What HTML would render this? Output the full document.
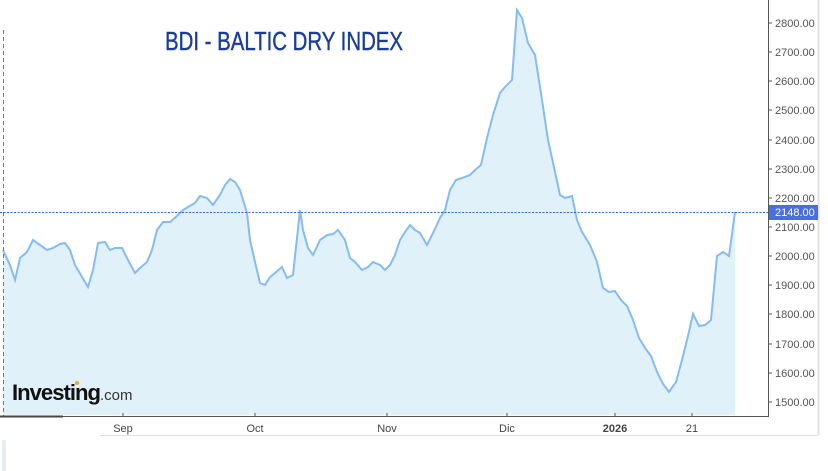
<!DOCTYPE html>
<html><head><meta charset="utf-8"><style>body{margin:0;background:#fff}svg{display:block}</style></head><body>
<svg width="828" height="471" xmlns="http://www.w3.org/2000/svg" font-family="Liberation Sans, sans-serif">
<rect width="828" height="471" fill="#fff"/>
<line x1="818.5" y1="0" x2="818.5" y2="435" stroke="#e0e0e6" stroke-width="2"/>
<line x1="100" y1="435.5" x2="818" y2="435.5" stroke="#e0e0e6"/>
<line x1="4" y1="440" x2="4" y2="471" stroke="#e8ecf2" stroke-width="4"/>
<path id="d" d="M3,250 L10,265 L15,280 L20,258 L27,252 L33,240 L40,245 L47,250 L53,248 L60,244 L65,243 L70,250 L75,265 L82,277 L88,287 L93,270 L98,243 L105,242 L110,250 L115,248 L122,248 L128,260 L135,273 L140,268 L147,262 L152,250 L157,230 L163,222 L170,222 L177,216 L183,210 L188,207 L195,203 L200,196 L207,198 L213,205 L220,195 L225,185 L230,179 L235,182 L240,190 L247,213 L250,240 L255,262 L260,283 L265,285 L270,277 L275,273 L282,267 L287,278 L293,275 L300,210 L303,230 L308,248 L313,255 L320,240 L327,235 L333,234 L338,230 L345,240 L350,258 L355,262 L362,270 L368,267 L373,262 L380,265 L385,270 L390,265 L395,255 L400,240 L405,232 L410,225 L415,230 L420,233 L427,245 L433,233 L440,218 L445,210 L450,190 L456,180 L462,178 L470,175 L475,170 L481,165 L487,138 L493,115 L500,93 L505,87 L512,80 L517,10 L522,18 L528,43 L535,55 L542,100 L548,140 L555,172 L560,195 L565,198 L572,196 L577,220 L582,232 L590,245 L597,262 L603,288 L609,292 L615,291 L621,300 L627,306 L633,320 L639,338 L645,348 L651,356 L657,372 L663,384 L669,392 L676,382 L682,360 L688,336 L693,314 L699,326 L705,325 L711,320 L717,256 L723,252 L729,256 L735,212" fill="none"/>
<path d="M3,250 L10,265 L15,280 L20,258 L27,252 L33,240 L40,245 L47,250 L53,248 L60,244 L65,243 L70,250 L75,265 L82,277 L88,287 L93,270 L98,243 L105,242 L110,250 L115,248 L122,248 L128,260 L135,273 L140,268 L147,262 L152,250 L157,230 L163,222 L170,222 L177,216 L183,210 L188,207 L195,203 L200,196 L207,198 L213,205 L220,195 L225,185 L230,179 L235,182 L240,190 L247,213 L250,240 L255,262 L260,283 L265,285 L270,277 L275,273 L282,267 L287,278 L293,275 L300,210 L303,230 L308,248 L313,255 L320,240 L327,235 L333,234 L338,230 L345,240 L350,258 L355,262 L362,270 L368,267 L373,262 L380,265 L385,270 L390,265 L395,255 L400,240 L405,232 L410,225 L415,230 L420,233 L427,245 L433,233 L440,218 L445,210 L450,190 L456,180 L462,178 L470,175 L475,170 L481,165 L487,138 L493,115 L500,93 L505,87 L512,80 L517,10 L522,18 L528,43 L535,55 L542,100 L548,140 L555,172 L560,195 L565,198 L572,196 L577,220 L582,232 L590,245 L597,262 L603,288 L609,292 L615,291 L621,300 L627,306 L633,320 L639,338 L645,348 L651,356 L657,372 L663,384 L669,392 L676,382 L682,360 L688,336 L693,314 L699,326 L705,325 L711,320 L717,256 L723,252 L729,256 L735,212 L735,415 L3,415 Z" fill="#e1f1fa"/>
<use href="#d" stroke="#86bcef" stroke-width="2"/>
<line x1="3.5" y1="30" x2="3.5" y2="416" stroke="#777" stroke-dasharray="4,3"/>
<line x1="0" y1="212.5" x2="768" y2="212.5" stroke="#3060e0" stroke-dasharray="2,1.5"/>
<line x1="768.5" y1="0" x2="768.5" y2="417" stroke="#555"/>
<line x1="0" y1="416.5" x2="769" y2="416.5" stroke="#555"/>
<line x1="0" y1="416.5" x2="63" y2="416.5" stroke="#444" stroke-width="2"/>
<g stroke="#555">
<line x1="768" y1="23" x2="772" y2="23"/><line x1="768" y1="52" x2="772" y2="52"/><line x1="768" y1="81" x2="772" y2="81"/><line x1="768" y1="110" x2="772" y2="110"/><line x1="768" y1="140" x2="772" y2="140"/><line x1="768" y1="169" x2="772" y2="169"/><line x1="768" y1="198" x2="772" y2="198"/><line x1="768" y1="227" x2="772" y2="227"/><line x1="768" y1="256" x2="772" y2="256"/><line x1="768" y1="285" x2="772" y2="285"/><line x1="768" y1="314" x2="772" y2="314"/><line x1="768" y1="344" x2="772" y2="344"/><line x1="768" y1="373" x2="772" y2="373"/><line x1="768" y1="402" x2="772" y2="402"/>
<line x1="123" y1="413" x2="123" y2="417"/><line x1="255" y1="413" x2="255" y2="417"/><line x1="387" y1="413" x2="387" y2="417"/><line x1="507" y1="413" x2="507" y2="417"/><line x1="615" y1="413" x2="615" y2="417"/><line x1="692" y1="413" x2="692" y2="417"/>
</g>
<g font-size="11" fill="#555">
<text x="775" y="27">2800.00</text><text x="775" y="56">2700.00</text><text x="775" y="85">2600.00</text><text x="775" y="114">2500.00</text><text x="775" y="144">2400.00</text><text x="775" y="173">2300.00</text><text x="775" y="202">2200.00</text><text x="775" y="231">2100.00</text><text x="775" y="260">2000.00</text><text x="775" y="289">1900.00</text><text x="775" y="318">1800.00</text><text x="775" y="348">1700.00</text><text x="775" y="377">1600.00</text><text x="775" y="406">1500.00</text>
</g>
<rect x="769" y="205" width="49" height="15" fill="#4a6ee0"/>
<text x="775" y="216" font-size="11" fill="#fff">2148.00</text>
<g font-size="11" fill="#444" text-anchor="middle">
<text x="123" y="432">Sep</text><text x="255" y="432">Oct</text><text x="387" y="432">Nov</text><text x="507" y="432">Dic</text><text x="615" y="432" font-weight="bold">2026</text><text x="692" y="432">21</text>
</g>
<text x="165" y="50" font-size="26" fill="#1a3d99" stroke="#1a3d99" stroke-width="0.4" textLength="238" lengthAdjust="spacingAndGlyphs" font-family="Liberation Sans Narrow, Liberation Sans, sans-serif">BDI - BALTIC DRY INDEX</text>
<text x="12" y="400" font-size="22" font-weight="bold" fill="#111" textLength="88" lengthAdjust="spacingAndGlyphs" letter-spacing="-1">Investing</text>
<text x="100" y="400" font-size="15" fill="#333">.com</text>
<circle cx="77" cy="383" r="2" fill="#f5a623"/>
</svg>
</body></html>
